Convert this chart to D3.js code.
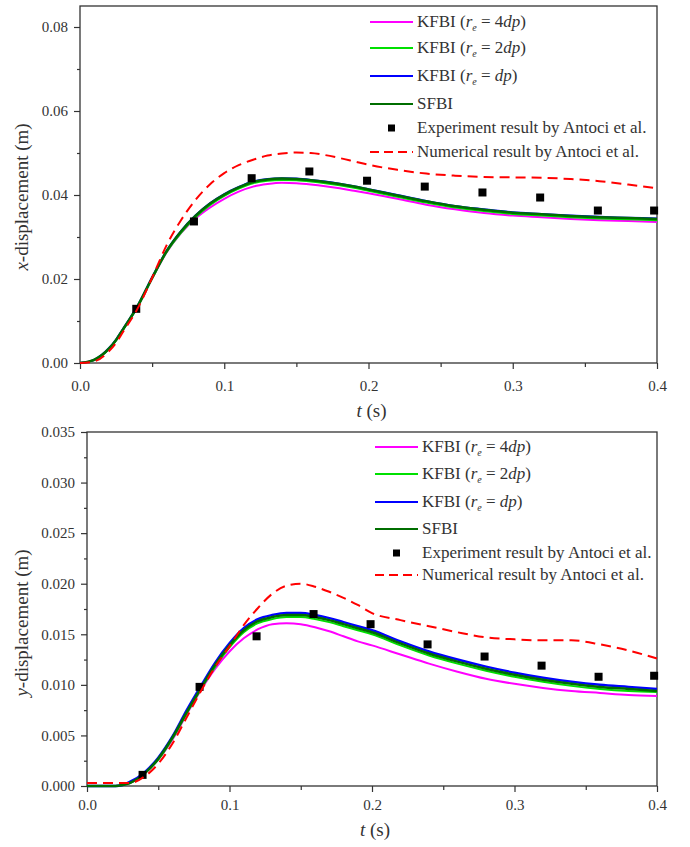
<!DOCTYPE html>
<html>
<head>
<meta charset="utf-8">
<script src="https://cdn.jsdelivr.net/npm/d3@7"></script>
<style>
  body { margin: 0; background: #fff; }
  svg text { font-family: "Liberation Serif", "Times New Roman", serif; fill: #333; }
</style>
</head>
<body>
<svg id="chart"></svg>
<script>
const width = 690;
const height = 847;

// shared time grid (s)
const tGrid = [0, 0.01, 0.02, 0.025, 0.03, 0.04, 0.05, 0.06, 0.07, 0.08, 0.09, 0.10, 0.11, 0.12, 0.13, 0.14,
  0.15, 0.16, 0.17, 0.18, 0.19, 0.20, 0.22, 0.24, 0.26, 0.28, 0.30, 0.32, 0.34, 0.36, 0.38, 0.40];

// x-displacement (m), upper panel
const kfbi4X = [0, 0.0007, 0.0033, 0.0054, 0.0080, 0.0134, 0.0201, 0.0263, 0.0309, 0.0344, 0.0370, 0.0391, 0.0408, 0.0420, 0.0426, 0.0429,
  0.0428, 0.0425, 0.0421, 0.0416, 0.0410, 0.0404, 0.0391, 0.0377, 0.0366, 0.0357, 0.0351, 0.0347, 0.0343, 0.0340, 0.0338, 0.0336];
const kfbi2X = [0, 0.0007, 0.0033, 0.0054, 0.0080, 0.0134, 0.0201, 0.0264, 0.0310, 0.0347, 0.0376, 0.0398, 0.0415, 0.0428, 0.0434, 0.0436,
  0.0435, 0.0432, 0.0428, 0.0423, 0.0417, 0.0410, 0.0396, 0.0382, 0.0370, 0.0362, 0.0355, 0.0351, 0.0347, 0.0344, 0.0342, 0.0340];
const kfbi1X = [0, 0.0008, 0.0035, 0.0056, 0.0082, 0.0137, 0.0204, 0.0267, 0.0314, 0.0351, 0.0380, 0.0402, 0.0419, 0.0432, 0.0438, 0.0440,
  0.0439, 0.0436, 0.0432, 0.0427, 0.0421, 0.0414, 0.0400, 0.0386, 0.0374, 0.0366, 0.0359, 0.0355, 0.0351, 0.0348, 0.0346, 0.0344];
const sfbiX = [0, 0.0008, 0.0034, 0.0055, 0.0081, 0.0136, 0.0203, 0.0266, 0.0313, 0.0350, 0.0379, 0.0401, 0.0418, 0.0431, 0.0437, 0.0439,
  0.0438, 0.0435, 0.0431, 0.0426, 0.0420, 0.0413, 0.0399, 0.0385, 0.0373, 0.0365, 0.0358, 0.0354, 0.0350, 0.0347, 0.0345, 0.0343];
const numX = [0, 0.0004, 0.0028, 0.0048, 0.0075, 0.0130, 0.0203, 0.0280, 0.0340, 0.0388, 0.0425, 0.0452, 0.0471, 0.0484, 0.0494, 0.0499,
  0.0501, 0.0500, 0.0495, 0.0488, 0.0480, 0.0472, 0.0460, 0.0451, 0.0446, 0.0443, 0.0442, 0.0441, 0.0438, 0.0433, 0.0425, 0.0416];

// y-displacement (m), lower panel
const kfbi4Y = [0, 0, 0, 0.0001, 0.0003, 0.0012, 0.0026, 0.0046, 0.0071, 0.0095, 0.0116, 0.0133, 0.0146, 0.0155, 0.0160, 0.0161,
  0.0160, 0.0157, 0.0153, 0.0148, 0.0143, 0.0139, 0.0130, 0.0121, 0.0113, 0.0106, 0.0101, 0.0097, 0.0094, 0.0092, 0.0090, 0.0089];
const kfbi2Y = [0, 0, 0, 0.0001, 0.0003, 0.0012, 0.0026, 0.0047, 0.0072, 0.0096, 0.0118, 0.0137, 0.0152, 0.0161, 0.0165, 0.0167,
  0.0167, 0.0165, 0.0162, 0.0158, 0.0154, 0.0150, 0.0139, 0.0129, 0.0121, 0.0114, 0.0108, 0.0103, 0.0099, 0.0096, 0.0094, 0.0093];
const kfbi1Y = [0, 0, 0, 0.0001, 0.0004, 0.0013, 0.0028, 0.0049, 0.0075, 0.0099, 0.0122, 0.0141, 0.0156, 0.0165, 0.0169, 0.0171,
  0.0171, 0.0169, 0.0166, 0.0162, 0.0158, 0.0154, 0.0143, 0.0133, 0.0125, 0.0118, 0.0112, 0.0107, 0.0103, 0.0100, 0.0098, 0.0096];
const sfbiY = [0, 0, 0, 0.0001, 0.0003, 0.0012, 0.0027, 0.0048, 0.0073, 0.0097, 0.0120, 0.0139, 0.0154, 0.0163, 0.0167, 0.0169,
  0.0169, 0.0167, 0.0164, 0.0160, 0.0156, 0.0152, 0.0141, 0.0131, 0.0123, 0.0116, 0.0110, 0.0105, 0.0101, 0.0098, 0.0096, 0.0094];
const numY = [0.0003, 0.0003, 0.0003, 0.0003, 0.0003, 0.0009, 0.0022, 0.0042, 0.0068, 0.0094, 0.0118, 0.0138, 0.0159, 0.0176, 0.0190, 0.0198,
  0.0200, 0.0197, 0.0192, 0.0186, 0.0179, 0.0171, 0.0164, 0.0158, 0.0152, 0.0147, 0.0145, 0.0144, 0.0144, 0.0140, 0.0134, 0.0126];

// experiment (Antoci et al.)
const expT = [0.039, 0.079, 0.119, 0.159, 0.199, 0.239, 0.279, 0.319, 0.359, 0.398];
const expX = [0.0129, 0.0337, 0.0440, 0.0456, 0.0434, 0.0420, 0.0406, 0.0394, 0.0363, 0.0363];
const expY = [0.0011, 0.0098, 0.0148, 0.0170, 0.0160, 0.0140, 0.0128, 0.0119, 0.0108, 0.0109];

const xTicks = [0, 0.1, 0.2, 0.3, 0.4];
const xMinorTicks = [0.05, 0.15, 0.25, 0.35];
const yTopTicks = [0, 0.02, 0.04, 0.06, 0.08];
const yTopMinor = [0.01, 0.03, 0.05, 0.07];
const yBotTicks = [0, 0.005, 0.010, 0.015, 0.020, 0.025, 0.030, 0.035];
const yBotMinor = [0.0025, 0.0075, 0.0125, 0.0175, 0.0225, 0.0275, 0.0325];

const legendCoef = ["4", "2", ""];
const serif = "'Liberation Serif', 'Times New Roman', serif";

const svg = d3.select("#chart")
  .attr("width", width)
  .attr("height", height)
  .attr("font-family", serif);

function drawPanel(p) {
  const x = d3.scaleLinear().domain([0, 0.4]).range([p.left, p.right]);
  const y = d3.scaleLinear().domain([0, p.yMax]).range([p.bottom, p.top]);
  const g = svg.append("g");

  // x axis
  g.append("g")
    .attr("transform", `translate(0,${p.bottom})`)
    .call(d3.axisBottom(x).tickValues(xTicks).tickFormat(d3.format(".1f"))
      .tickSize(6).tickSizeOuter(0).tickPadding(p.xPad));
  g.append("g")
    .attr("transform", `translate(0,${p.bottom})`)
    .call(d3.axisBottom(x).tickValues(xMinorTicks).tickFormat("").tickSize(4).tickSizeOuter(0));

  // y axis
  g.append("g")
    .attr("transform", `translate(${p.left},0)`)
    .call(d3.axisLeft(y).tickValues(p.yTicks).tickFormat(d3.format(p.yFmt))
      .tickSize(6).tickSizeOuter(0).tickPadding(6));
  g.append("g")
    .attr("transform", `translate(${p.left},0)`)
    .call(d3.axisLeft(y).tickValues(p.yMinor).tickFormat("").tickSize(3).tickSizeOuter(0));

  g.selectAll(".domain").remove();
  g.selectAll("g").attr("font-family", serif).attr("font-size", 15);
  g.selectAll(".tick line").attr("stroke", "#333").attr("stroke-width", 1.2);
  g.selectAll(".tick text")
    .style("font-size", "15px")
    .style("font-family", serif)
    .attr("fill", "#333");

  // frame
  g.append("rect")
    .attr("x", p.left).attr("y", p.top)
    .attr("width", p.right - p.left).attr("height", p.bottom - p.top)
    .attr("fill", "none").attr("stroke", "#333").attr("stroke-width", 1.3);

  const line = d3.line()
    .x((d, i) => x(tGrid[i]))
    .y((d) => y(d))
    .curve(d3.curveMonotoneX);

  p.series.forEach((s) => {
    g.append("path")
      .datum(s.values)
      .attr("d", line)
      .attr("fill", "none")
      .attr("stroke", s.color)
      .attr("stroke-width", s.width);
  });

  // experiment squares
  g.append("g")
    .selectAll("rect")
    .data(p.exp)
    .enter()
    .append("rect")
    .attr("x", (d, i) => x(expT[i]) - 4)
    .attr("y", (d) => y(d) - 4)
    .attr("width", 8)
    .attr("height", 8)
    .attr("fill", "#000");

  // numerical red dashed on top
  g.append("path")
    .datum(p.num)
    .attr("d", line)
    .attr("fill", "none")
    .attr("stroke", "#ff0000")
    .attr("stroke-width", 2)
    .attr("stroke-dasharray", "10,6");

  // axis titles
  const yt = g.append("text")
    .attr("transform", `translate(${p.yTitleX},${p.yTitleY}) rotate(-90)`)
    .attr("text-anchor", "middle")
    .style("font-size", "19px");
  yt.append("tspan").style("font-style", "italic").text(p.yVar);
  yt.append("tspan").text("-displacement (m)");

  const xt = g.append("text")
    .attr("x", (p.left + p.right) / 2 + 3)
    .attr("y", p.xTitleY)
    .attr("text-anchor", "middle")
    .style("font-size", "19px");
  xt.append("tspan").style("font-style", "italic").text("t");
  xt.append("tspan").text(" (s)");

  // legend
  const lg = g.append("g");
  const rows = p.legendRows;
  const lx0 = p.legendX;
  const lx1 = p.legendX + 43;
  const tx = lx1 + 4;

  p.series.forEach((s, i) => {
    lg.append("line")
      .attr("x1", lx0).attr("x2", lx1)
      .attr("y1", rows[i]).attr("y2", rows[i])
      .attr("stroke", s.color).attr("stroke-width", 2);
    const t = lg.append("text")
      .attr("x", tx).attr("y", rows[i] + 5)
      .style("font-size", "17px");
    if (i < 3) {
      t.append("tspan").text("KFBI (");
      t.append("tspan").style("font-style", "italic").text("r");
      t.append("tspan").style("font-style", "italic").style("font-size", "10px").attr("dy", 4).text("e");
      t.append("tspan").attr("dy", -4).text(" = " + legendCoef[i]);
      t.append("tspan").style("font-style", "italic").text("dp");
      t.append("tspan").text(")");
    } else {
      t.text("SFBI");
    }
  });

  lg.append("rect")
    .attr("x", lx0 + 18).attr("y", rows[4] - 3.5)
    .attr("width", 7).attr("height", 7)
    .attr("fill", "#000");
  lg.append("text")
    .attr("x", tx).attr("y", rows[4] + 5)
    .style("font-size", "17px")
    .text("Experiment result by Antoci et al.");

  lg.append("line")
    .attr("x1", lx0).attr("x2", lx1)
    .attr("y1", rows[5]).attr("y2", rows[5])
    .attr("stroke", "#ff0000").attr("stroke-width", 2)
    .attr("stroke-dasharray", "9,5");
  lg.append("text")
    .attr("x", tx).attr("y", rows[5] + 5)
    .style("font-size", "17px")
    .text("Numerical result by Antoci et al.");
}

drawPanel({
  left: 80, right: 657, top: 6, bottom: 363,
  yMax: 0.085,
  yTicks: yTopTicks, yMinor: yTopMinor, yFmt: ".2f",
  xPad: 11,
  yVar: "x", yTitleX: 28, yTitleY: 197,
  xTitleY: 417,
  series: [
    { values: kfbi4X, color: "#ff00ff", width: 2 },
    { values: kfbi2X, color: "#00e000", width: 2 },
    { values: kfbi1X, color: "#0000ff", width: 2 },
    { values: sfbiX, color: "#006e00", width: 2.5 }
  ],
  num: numX,
  exp: expX,
  legendX: 370,
  legendRows: [22, 48, 76, 104, 128, 152]
});

drawPanel({
  left: 87, right: 657, top: 432, bottom: 786,
  yMax: 0.035,
  yTicks: yBotTicks, yMinor: yBotMinor, yFmt: ".3f",
  xPad: 7,
  yVar: "y", yTitleX: 28, yTitleY: 623,
  xTitleY: 836,
  series: [
    { values: kfbi4Y, color: "#ff00ff", width: 2 },
    { values: kfbi2Y, color: "#00e000", width: 2 },
    { values: kfbi1Y, color: "#0000ff", width: 2.5 },
    { values: sfbiY, color: "#006e00", width: 2.5 }
  ],
  num: numY,
  exp: expY,
  legendX: 375,
  legendRows: [447, 474, 502, 529, 553, 575]
});
</script>
</body>
</html>
